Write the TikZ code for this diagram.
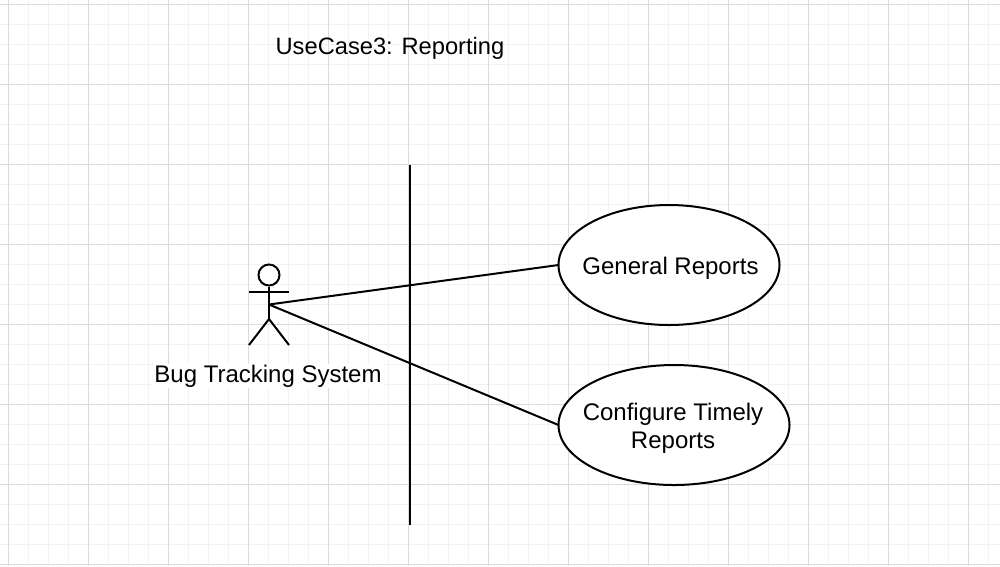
\documentclass[tikz,border=0pt]{standalone}
\usepackage{fontspec}
\setmainfont{Liberation Sans}
\usetikzlibrary{shapes.geometric}
\tikzset{
  x=1pt,y=-1pt,
  stroke/.style={line width=2pt,black},
  usecase/.style={draw,ellipse,line width=2pt,fill=white,inner sep=0pt,outer sep=0pt,minimum width=#1,minimum height=120pt},
  txt/.style={inner sep=0pt,align=center,font=\fontsize{24}{28}\selectfont,text=black},
  label/.style={inner sep=1pt,fill=white,font=\fontsize{24}{28}\selectfont,text=black}
}
\begin{document}
\begin{tikzpicture}
\useasboundingbox (0,0) rectangle (1000,566);
\fill[white] (0,0) rectangle (1000,566);
\foreach \i in {0,...,50} {\draw[line width=1.5pt,color=black!5] ({8.5+20*\i},0) -- ({8.5+20*\i},566);}
\foreach \i in {0,...,28} {\draw[line width=1.5pt,color=black!5] (0,{4.5+20*\i}) -- (1000,{4.5+20*\i});}
\foreach \i in {0,...,12} {\draw[line width=1pt,color=black!14] ({8.5+80*\i},0) -- ({8.5+80*\i},566);}
\foreach \i in {0,...,7} {\draw[line width=1pt,color=black!14] (0,{4.5+80*\i}) -- (1000,{4.5+80*\i});}
\node[txt,font=\fontsize{23.7}{28}\selectfont] (title) at (390,48) {UseCase3: Reporting};
\coordinate (top) at (409.5,165);
\coordinate (bot) at (409.5,525);
\draw[stroke] (top) -- (bot);
\coordinate (hub) at (269,304.5);
\node[usecase=221pt] (gr) at (669,265) {};
\node[txt] (grt) at (670.5,268.5) {General Reports};
\node[usecase=231pt] (ct) at (674,425) {};
\node[txt] (ctt) at (673,428) {Configure Timely\\Reports};
\draw[stroke] (hub) -- (gr.west);
\draw[stroke] (hub) -- (ct.west);
\node[draw,circle,line width=2pt,minimum size=21pt,inner sep=0pt,fill=white] (head) at (269,275) {};
\coordinate (hip) at (269,319);
\coordinate (arml) at (249,291.5);
\coordinate (armr) at (289,291.5);
\coordinate (legl) at (249,345);
\coordinate (legr) at (289,345);
\draw[stroke] (head.south) -- (hip);
\draw[stroke] (arml) -- (armr);
\draw[stroke] (legl) -- (hip) -- (legr);
\node[label] (actor) at (268,376) {Bug Tracking System};
\end{tikzpicture}
\end{document}
